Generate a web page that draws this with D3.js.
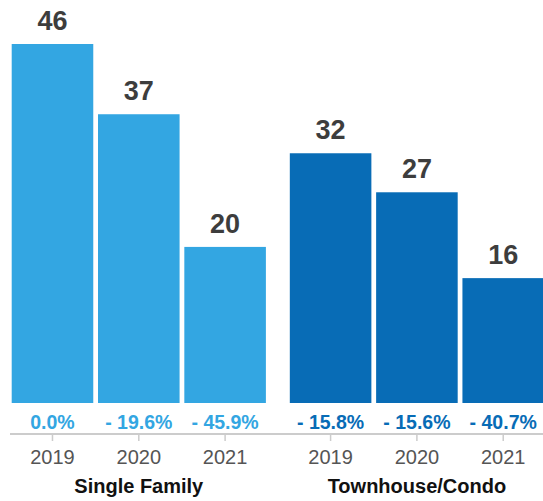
<!DOCTYPE html>
<html>
<head>
<meta charset="utf-8">
<script src="https://cdn.jsdelivr.net/npm/d3@7"></script>
<style>
  body { margin: 0; background: #fff; }
  svg { display: block; font-family: "Liberation Sans", Arial, Helvetica, sans-serif; }
</style>
</head>
<body>
<div id="chart"></div>
<script>
const groups = ["Single Family", "Townhouse/Condo"];
const years = ["2019", "2020", "2021"];
const singleFamily = [46, 37, 20];
const townhouse = [32, 27, 16];
const singleChange = ["0.0%", "- 19.6%", "- 45.9%"];
const townChange = ["- 15.8%", "- 15.6%", "- 40.7%"];
const colors = ["#33a6e2", "#086cb6"];

const width = 543, height = 501;
const baseY = 403, axisY = 434;

// one row per bar
const rows = [];
groups.forEach((g, gi) => {
  const vals = gi === 0 ? singleFamily : townhouse;
  const chg = gi === 0 ? singleChange : townChange;
  years.forEach((y, i) => rows.push({ group: g, gi: gi, year: y, value: vals[i], change: chg[i] }));
});

const svg = d3.select("#chart")
  .append("svg")
  .attr("width", width)
  .attr("height", height);

const x0 = d3.scaleBand().domain(groups).range([11.7, 544]).paddingInner(0.086);
const x1 = d3.scaleBand().domain(years).range([0, x0.bandwidth()]).paddingInner(0.055);
const y = d3.scaleLinear().domain([0, 46]).range([baseY, 44]);

const xpos = d => x0(d.group) + x1(d.year);

// bars
svg.append("g")
  .selectAll("rect")
  .data(rows)
  .join("rect")
  .attr("x", xpos)
  .attr("y", d => y(d.value))
  .attr("width", x1.bandwidth())
  .attr("height", d => baseY - y(d.value))
  .attr("fill", d => colors[d.gi]);

// value labels above bars
svg.append("g")
  .attr("text-anchor", "middle")
  .attr("font-size", 27)
  .attr("font-weight", "bold")
  .attr("fill", "#3d3d3d")
  .selectAll("text")
  .data(rows)
  .join("text")
  .attr("x", d => xpos(d) + x1.bandwidth() / 2)
  .attr("y", d => y(d.value) - 14)
  .text(d => d.value);

// percent change row
svg.append("g")
  .attr("text-anchor", "middle")
  .attr("font-size", 19.5)
  .attr("font-weight", "bold")
  .selectAll("text")
  .data(rows)
  .join("text")
  .attr("x", d => xpos(d) + x1.bandwidth() / 2)
  .attr("y", 429)
  .attr("fill", d => colors[d.gi])
  .text(d => d.change);

// axis line + ticks
svg.append("line")
  .attr("x1", 10).attr("x2", width)
  .attr("y1", axisY).attr("y2", axisY)
  .attr("stroke", "#cccccc")
  .attr("stroke-width", 2);

svg.append("g")
  .selectAll("line")
  .data(rows)
  .join("line")
  .attr("x1", d => xpos(d) + x1.bandwidth() / 2)
  .attr("x2", d => xpos(d) + x1.bandwidth() / 2)
  .attr("y1", axisY).attr("y2", axisY + 7)
  .attr("stroke", "#cccccc")
  .attr("stroke-width", 1.5);

// year labels
svg.append("g")
  .attr("text-anchor", "middle")
  .attr("font-size", 20)
  .attr("fill", "#555")
  .selectAll("text")
  .data(rows)
  .join("text")
  .attr("x", d => xpos(d) + x1.bandwidth() / 2)
  .attr("y", 463.5)
  .text(d => d.year);

// group labels
svg.append("g")
  .attr("text-anchor", "middle")
  .attr("font-size", 20)
  .attr("font-weight", "bold")
  .attr("fill", "#111")
  .selectAll("text")
  .data(groups)
  .join("text")
  .attr("x", d => x0(d) + x0.bandwidth() / 2)
  .attr("y", 493)
  .text(d => d);
</script>
</body>
</html>
